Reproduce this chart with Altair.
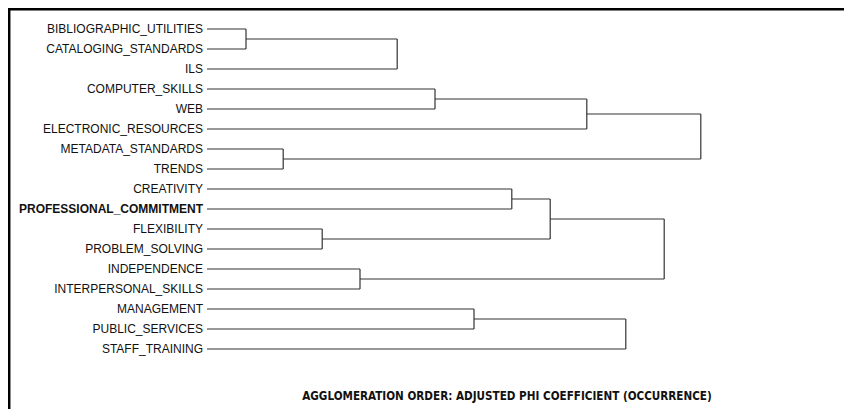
import altair as alt
import pandas as pd

# Leaves in display order (top to bottom)
leaves = [
    "BIBLIOGRAPHIC_UTILITIES", "CATALOGING_STANDARDS", "ILS",
    "COMPUTER_SKILLS", "WEB", "ELECTRONIC_RESOURCES",
    "METADATA_STANDARDS", "TRENDS", "CREATIVITY",
    "PROFESSIONAL_COMMITMENT", "FLEXIBILITY", "PROBLEM_SOLVING",
    "INDEPENDENCE", "INTERPERSONAL_SKILLS", "MANAGEMENT",
    "PUBLIC_SERVICES", "STAFF_TRAINING",
]
bold_labels = ["PROFESSIONAL_COMMITMENT"]

# Agglomeration steps: node M{k} joins merge_a[k-1] and merge_b[k-1] at merge_h[k-1]
merge_a = ["BIBLIOGRAPHIC_UTILITIES", "M1", "COMPUTER_SKILLS", "M3", "METADATA_STANDARDS", "M4",
           "CREATIVITY", "FLEXIBILITY", "M7", "INDEPENDENCE", "M9", "MANAGEMENT", "M12"]
merge_b = ["CATALOGING_STANDARDS", "ILS", "WEB", "ELECTRONIC_RESOURCES", "TRENDS", "M5",
           "PROFESSIONAL_COMMITMENT", "PROBLEM_SOLVING", "M8", "INTERPERSONAL_SKILLS", "M10",
           "PUBLIC_SERVICES", "STAFF_TRAINING"]
merge_h = [0.065, 0.317, 0.380, 0.633, 0.127, 0.823,
           0.508, 0.192, 0.572, 0.255, 0.762, 0.445, 0.698]

footer = "AGGLOMERATION ORDER: ADJUSTED PHI COEFFICIENT (OCCURRENCE)"

# Build dendrogram segments
pos = {name: (0.0, float(i)) for i, name in enumerate(leaves)}
segs = []
for k, (a, b, h) in enumerate(zip(merge_a, merge_b, merge_h)):
    xa, ya = pos[a]
    xb, yb = pos[b]
    segs.append(dict(x=xa, x2=h, y=ya, y2=ya))
    segs.append(dict(x=xb, x2=h, y=yb, y2=yb))
    segs.append(dict(x=h, x2=h, y=ya, y2=yb))
    pos[f"M{k + 1}"] = (h, (ya + yb) / 2)
seg_df = pd.DataFrame(segs)

lab_df = pd.DataFrame({
    "leaf": leaves,
    "idx": list(range(len(leaves))),
    "x0": [0.0] * len(leaves),
    "bold": [l in bold_labels for l in leaves],
})

W, H = 836, 401
xs = alt.Scale(domain=[0, 1], range=[199, 799])
ys = alt.Scale(domain=[0, 16], range=[21, 341])

lines = alt.Chart(seg_df).mark_rule(color="#333333", strokeWidth=1.2).encode(
    x=alt.X("x:Q", scale=xs, axis=None),
    x2="x2:Q",
    y=alt.Y("y:Q", scale=ys, axis=None),
    y2="y2:Q",
)

text_base = alt.Chart(lab_df).encode(
    x=alt.X("x0:Q", scale=xs, axis=None),
    y=alt.Y("idx:Q", scale=ys, axis=None),
    text="leaf:N",
)
labels = text_base.transform_filter("!datum.bold").mark_text(
    align="right", baseline="middle", dx=-4, font="Liberation Sans", fontSize=12, color="#111111"
)
labels_bold = text_base.transform_filter("datum.bold").mark_text(
    align="right", baseline="middle", dx=-4, font="Liberation Sans", fontSize=12,
    fontWeight="bold", color="#111111"
)

foot = alt.Chart(pd.DataFrame({"t": [footer]})).mark_text(
    align="center", baseline="middle", font="Liberation Sans Narrow, DejaVu Sans Condensed",
    fontSize=11.6, fontWeight="bold", color="#111111"
).encode(x=alt.value(499), y=alt.value(389), text="t:N")

border_df = pd.DataFrame({"a": [0]})
top_border = alt.Chart(border_df).mark_rule(color="black", strokeWidth=2.5).encode(
    x=alt.value(0), x2=alt.value(W), y=alt.value(1.2)
)
left_border = alt.Chart(border_df).mark_rule(color="black", strokeWidth=2.5).encode(
    x=alt.value(1.2), y=alt.value(0), y2=alt.value(H)
)

chart = alt.layer(lines, labels, labels_bold, foot, top_border, left_border).properties(
    width=W, height=H, autosize=alt.AutoSizeParams(type="none"), padding=0, background="white"
).configure_view(stroke=None)

chart.save("out.html", embed_options={"renderer": "svg", "actions": False})
